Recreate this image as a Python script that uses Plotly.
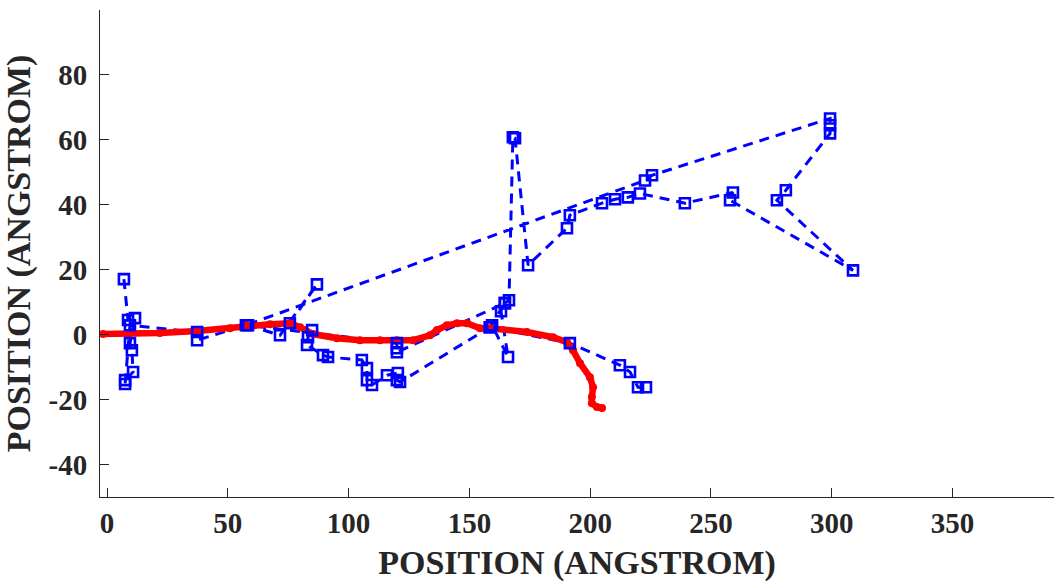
import plotly.graph_objects as go

# Blue trajectory (open squares, dashed connector), in angstrom
blue_x = [7.0, 8.7, 11.6, 9.5, 10.3, 10.8, 7.5, 7.5, 9.5, 37.3, 37.3, 57.5,
          222.7, 225.6, 299.3, 299.3, 299.3, 281.0, 277.3, 308.8, 257.9, 259.1,
          239.2, 220.6, 215.6, 210.3, 204.9, 191.6, 190.4, 174.3, 168.9, 168.0,
          166.4, 164.7, 163.1, 166.0, 159.4, 158.5, 121.3, 120.0, 120.4, 115.9,
          109.7, 107.6, 107.6, 105.5, 91.5, 89.4, 82.8, 83.2, 84.9, 75.7, 86.9,
          71.6, 58.4, 120.0, 120.0, 120.0, 164.7, 158.5, 191.6, 212.3, 216.5,
          219.8, 223.1]
blue_y = [17.1, 4.5, 5.1, -2.6, -4.8, -11.5, -14.0, -15.2, 2.9, 0.8, -1.7, 2.9,
          47.5, 49.1, 66.6, 64.5, 62.0, 44.5, 41.4, 19.8, 41.4, 43.8,
          40.5, 43.5, 42.3, 41.7, 40.5, 36.8, 32.8, 21.4, 60.5, 60.8,
          10.6, 9.7, 7.2, -6.9, 2.9, 2.3, -14.6, -14.0, -11.8, -12.5,
          -15.5, -14.0, -10.3, -7.8, -6.9, -6.3, -3.2, -0.8, 1.4, 3.5, 15.5,
          -0.2, 2.9, -2.6, -4.2, -5.4, 9.7, 2.3, -2.6, -9.4, -11.5,
          -16.2, -16.2]

# Red trajectory (dense dots), in angstrom
red_x = [-1.7, 8.7, 21.9, 37.3, 50.9, 57.5, 67.5, 75.7, 79.9, 85.3, 95.2,
         104.7, 113.0, 120.0, 126.7, 133.7, 136.6, 140.7, 144.9, 149.0, 154.4,
         158.5, 173.8, 184.6, 190.4, 192.9, 195.8, 199.9, 201.2, 200.7, 200.7,
         202.8, 204.9]
red_y = [0.2, 0.2, 0.5, 1.1, 2.0, 2.9, 3.2, 3.5, 2.3, 0.2, -1.1,
         -1.7, -1.7, -1.7, -1.7, -0.2, 1.4, 2.9, 3.5, 3.5, 2.0,
         2.0, 0.8, -0.8, -2.3, -4.8, -8.8, -13.1, -16.2, -19.2, -21.1,
         -22.3, -22.6]

x_ticks = [0, 50, 100, 150, 200, 250, 300, 350]
y_ticks = [-40, -20, 0, 20, 40, 60, 80]

AXIS_COLOR = "#262626"
FONT = "Liberation Serif"
BLUE = "#0000ff"
RED = "#ff0000"

fig = go.Figure()

# dashed connector of the blue path sits underneath the red curve
fig.add_trace(go.Scatter(
    x=blue_x, y=blue_y, mode="lines",
    line=dict(color=BLUE, width=3, dash="10px,7px"),
    showlegend=False, hoverinfo="skip",
))

fig.add_trace(go.Scatter(
    x=red_x, y=red_y, mode="lines+markers",
    line=dict(color=RED, width=6.5),
    marker=dict(symbol="circle", size=8, color=RED),
    showlegend=False,
))

# square markers of the blue path drawn on top
fig.add_trace(go.Scatter(
    x=blue_x, y=blue_y, mode="markers",
    marker=dict(symbol="square-open", size=10, color=BLUE,
                line=dict(color=BLUE, width=2.6)),
    showlegend=False,
))

axis_common = dict(
    showgrid=False, zeroline=False, showline=True, linecolor=AXIS_COLOR,
    linewidth=1, ticks="inside", ticklen=9, tickwidth=1, tickcolor=AXIS_COLOR,
    mirror=False,
    tickfont=dict(family=FONT, size=29, color=AXIS_COLOR, weight="bold"),
)

fig.update_xaxes(
    range=[-2.9, 392], tickvals=x_ticks, ticktext=[str(v) for v in x_ticks],
    title=dict(text="POSITION (ANGSTROM)", standoff=12,
               font=dict(family=FONT, size=34, color=AXIS_COLOR, weight="bold")),
    **axis_common,
)
fig.update_yaxes(
    range=[-50, 100], tickvals=y_ticks, ticktext=[str(v) for v in y_ticks],
    ticklabelstandoff=6,
    title=dict(text="POSITION (ANGSTROM)", standoff=8,
               font=dict(family=FONT, size=34, color=AXIS_COLOR, weight="bold")),
    **axis_common,
)

fig.update_layout(
    width=1054, height=588,
    margin=dict(l=100, r=0, t=10, b=91),
    paper_bgcolor="white", plot_bgcolor="white",
)

fig.write_html("out.html")
